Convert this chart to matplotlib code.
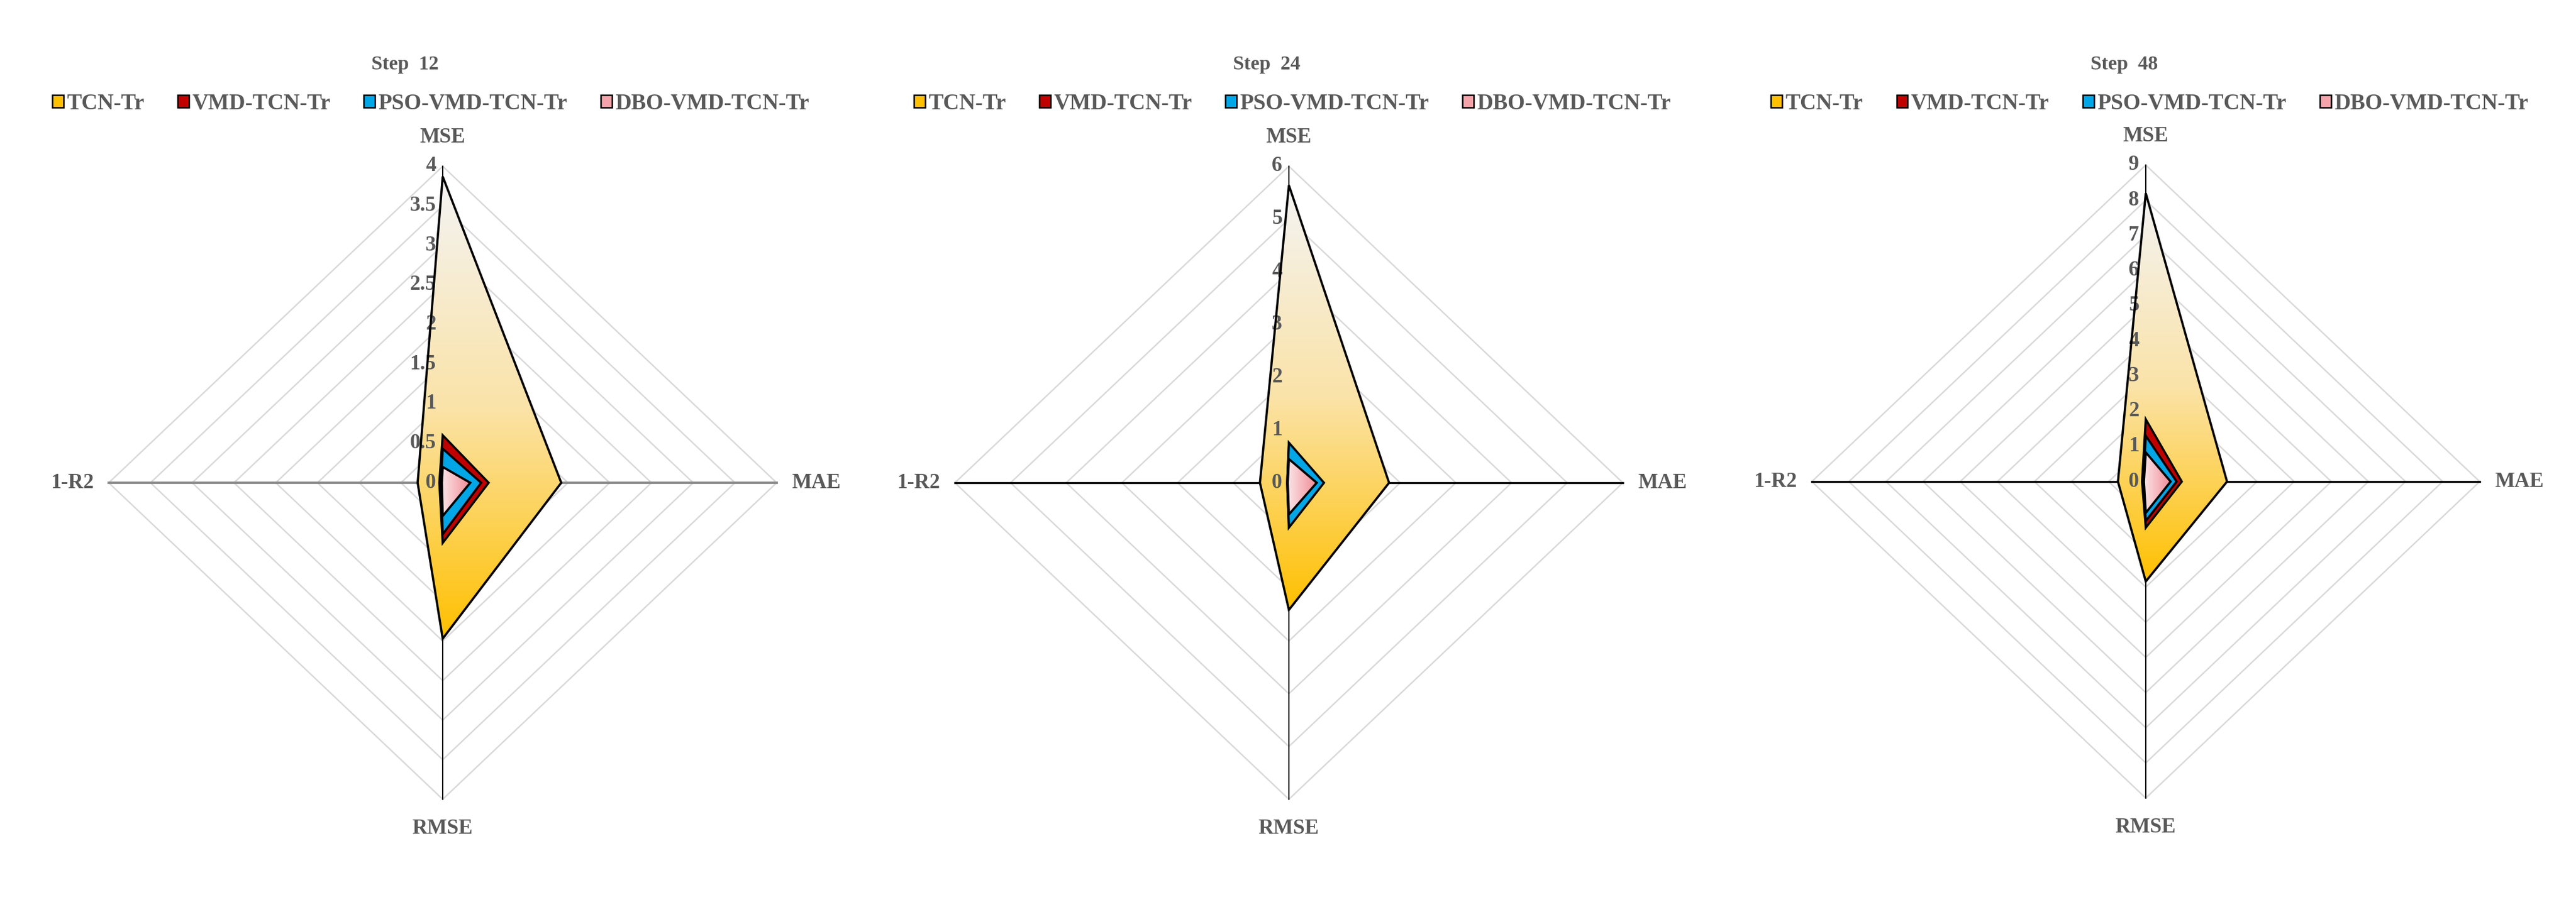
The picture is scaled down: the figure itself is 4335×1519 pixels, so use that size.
import numpy as np
import matplotlib.pyplot as plt
from matplotlib.patches import Polygon, Patch
from matplotlib.colors import LinearSegmentedColormap

# %% Data
axes_names = ["MSE", "MAE", "RMSE", "1-R2"]
models = ["TCN-Tr", "VMD-TCN-Tr", "PSO-VMD-TCN-Tr", "DBO-VMD-TCN-Tr"]
titles = ["Step  12", "Step  24", "Step  48"]
# order: MSE, MAE, RMSE, 1-R2
step12 = [[3.87, 1.42, 1.97, 0.30],
          [0.60, 0.55, 0.76, 0.04],
          [0.43, 0.46, 0.65, 0.02],
          [0.20, 0.33, 0.42, 0.01]]
step24 = [[5.64, 1.80, 2.41, 0.52],
          [0.74, 0.62, 0.84, 0.03],
          [0.76, 0.63, 0.85, 0.03],
          [0.45, 0.50, 0.60, 0.02]]
step48 = [[8.20, 2.19, 2.84, 0.75],
          [1.77, 0.97, 1.31, 0.10],
          [1.30, 0.83, 1.12, 0.07],
          [0.83, 0.67, 0.89, 0.05]]
ticks12 = [0, 0.5, 1, 1.5, 2, 2.5, 3, 3.5, 4]
ticks24 = [0, 1, 2, 3, 4, 5, 6]
ticks48 = [0, 1, 2, 3, 4, 5, 6, 7, 8, 9]

# %% Layout / style
W, H = 4335, 1519
panel_x0 = [0, 1450, 2900]
panel_w = [1450, 1450, 1435]
centers = [(745, 813), (2169, 813), (3611, 811)]
RX, RY = 562, 533
hline_col = ["#8c8c8c", "black", "black"]
grey = "#595959"
font = ["Liberation Serif", "DejaVu Serif"]
plt.rcParams["font.family"] = font
plt.rcParams["font.weight"] = "bold"

solid = ["#FFC000", "#C00000", "#00A6E6", "#F4A3AA"]
dirs = np.array([[0, 1], [1, 0], [0, -1], [-1, 0]])

fig = plt.figure(figsize=(W / 300, H / 300), dpi=300)

for p, (data, ticks, title) in enumerate(zip([step12, step24, step48],
                                             [ticks12, ticks24, ticks48], titles)):
    x0, pw = panel_x0[p], panel_w[p]
    cx, cy = centers[p]
    ax = fig.add_axes([x0 / W, 0, pw / W, 1])
    ax.set_xlim((x0 - cx) / RX, (x0 + pw - cx) / RX)
    ax.set_ylim(-(H - cy) / RY, cy / RY)
    ax.axis("off")
    vmax = ticks[-1]

    # grid diamonds
    for t in ticks[1:]:
        r = t / vmax
        ax.add_patch(Polygon(dirs * r, closed=True, fill=False, ec="#d9d9d9", lw=0.6, zorder=1))
    ax.plot([-1, 1], [0, 0], color=hline_col[p], lw=1.0 if p == 0 else 0.8, zorder=2)
    ax.plot([0, 0], [-1, 1], color="black", lw=0.5, zorder=2)

    # series
    for i, vals in enumerate(data):
        pts = dirs * (np.array(vals)[:, None] / vmax)
        z = 3 + i * 2
        poly = Polygon(pts, closed=True, fc="none", ec="black", lw=0.9, zorder=z + 1)
        ax.add_patch(poly)
        if i == 0:
            cmap = LinearSegmentedColormap.from_list("g", ["#f4f4f4", "#fbe3a8", "#FFC000"])
            grad = np.linspace(0, 1, 256)[:, None]
            im = ax.imshow(grad, cmap=cmap, aspect="auto", zorder=z,
                           extent=[pts[:, 0].min(), pts[:, 0].max(), pts[:, 1].min(), pts[:, 1].max()],
                           origin="upper")
            im.set_clip_path(poly)
        elif i == 3:
            cmap = LinearSegmentedColormap.from_list("p", ["#fbe4e6", "#F08C96"])
            grad = np.linspace(0, 1, 256)[None, :]
            im = ax.imshow(grad, cmap=cmap, aspect="auto", zorder=z,
                           extent=[pts[:, 0].min(), pts[:, 0].max(), pts[:, 1].min(), pts[:, 1].max()])
            im.set_clip_path(poly)
        else:
            poly.set_facecolor(solid[i])
        ax.autoscale(False)

    # tick labels along MSE axis
    for t in ticks:
        ax.text(-0.02, t / vmax, f"{t:g}", ha="right", va="center", fontsize=8.5, color=grey)

    # axis names
    ax.text(0, 1 + 48 / RY, "MSE", ha="center", va="center", fontsize=8.5, color=grey)
    ax.text(1 + 25 / RX, 0, "MAE", ha="left", va="center", fontsize=8.5, color=grey)
    ax.text(0, -1 - 50 / RY, "RMSE", ha="center", va="center", fontsize=8.5, color=grey)
    ax.text(-1 - 25 / RX, 0, "1-R2", ha="right", va="center", fontsize=8.5, color=grey)

    ax.text(0.47, 1 - 108 / H, title, transform=ax.transAxes, ha="center", va="center",
            fontsize=8, color=grey)
    handles = [Patch(fc=c, ec="black", lw=0.6) for c in solid]
    ax.legend(handles, models, ncol=4, loc="center", bbox_to_anchor=(0.5, 1 - 174 / H),
              frameon=False, fontsize=9, handlelength=0.5, handleheight=0.5,
              handletextpad=0.15, columnspacing=1.5, labelcolor=grey)

fig.savefig("out.png", dpi=300)
